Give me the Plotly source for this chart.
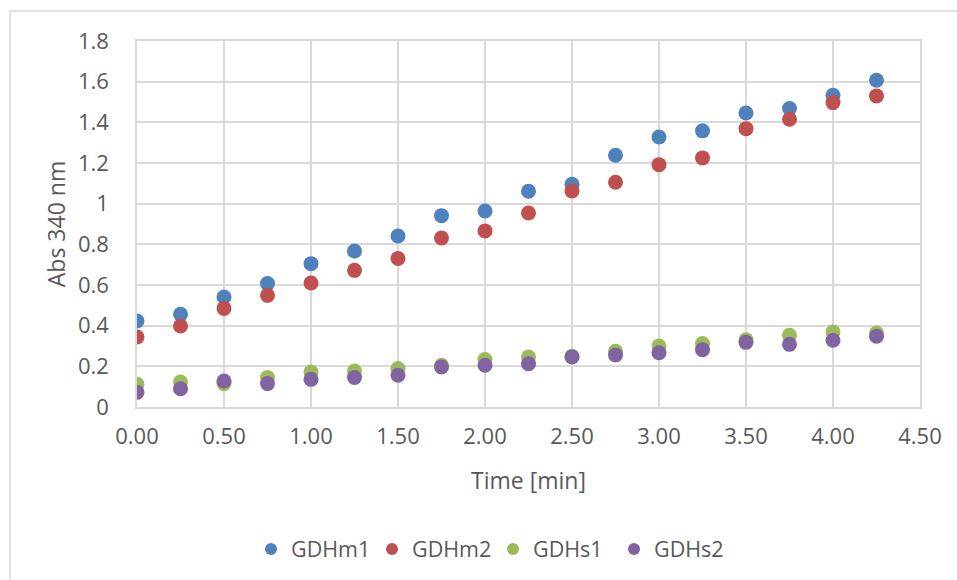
import plotly.graph_objects as go

time_min = [0.00, 0.25, 0.50, 0.75, 1.00, 1.25, 1.50, 1.75, 2.00, 2.25,
            2.50, 2.75, 3.00, 3.25, 3.50, 3.75, 4.00, 4.25]
gdhm1 = [0.423, 0.456, 0.541, 0.607, 0.705, 0.767, 0.841, 0.941, 0.964, 1.061,
         1.095, 1.238, 1.328, 1.358, 1.446, 1.468, 1.533, 1.607]
gdhm2 = [0.344, 0.398, 0.485, 0.549, 0.610, 0.672, 0.730, 0.831, 0.866, 0.954,
         1.062, 1.105, 1.192, 1.225, 1.369, 1.415, 1.497, 1.530]
gdhs1 = [0.112, 0.123, 0.115, 0.145, 0.172, 0.177, 0.189, 0.205, 0.233, 0.246,
         0.250, 0.274, 0.300, 0.312, 0.331, 0.353, 0.369, 0.364]
gdhs2 = [0.072, 0.090, 0.128, 0.115, 0.136, 0.145, 0.156, 0.197, 0.205, 0.213,
         0.246, 0.256, 0.267, 0.282, 0.318, 0.308, 0.328, 0.348]

series_names = ["GDHm1", "GDHm2", "GDHs1", "GDHs2"]
series_values = [gdhm1, gdhm2, gdhs1, gdhs2]
colors = ["#4F81BD", "#C0504D", "#9BBB59", "#8064A2"]

x_ticks = [0.0, 0.5, 1.0, 1.5, 2.0, 2.5, 3.0, 3.5, 4.0, 4.5]
x_tick_text = ["0.00", "0.50", "1.00", "1.50", "2.00", "2.50", "3.00", "3.50", "4.00", "4.50"]
y_ticks = [0, 0.2, 0.4, 0.6, 0.8, 1.0, 1.2, 1.4, 1.6, 1.8]
y_tick_text = ["0", "0.2", "0.4", "0.6", "0.8", "1", "1.2", "1.4", "1.6", "1.8"]

FONT = "Open Sans"
TXT = "#595959"
GRID = "#D9D9D9"

fig = go.Figure()
for name, vals, c in zip(series_names, series_values, colors):
    fig.add_trace(go.Scatter(
        x=time_min, y=vals, mode="markers", name=name,
        marker=dict(color=c, size=15, line=dict(width=0)),
    ))

W, H = 957, 580
L, R, T, B = 137, 37, 41, 173
pw, ph = W - L - R, H - T - B

fig.update_layout(
    width=W, height=H,
    margin=dict(l=L, r=R, t=T, b=B, pad=0),
    paper_bgcolor="white", plot_bgcolor="white",
    font=dict(family=FONT, color=TXT, size=21),
    showlegend=True,
    legend=dict(
        orientation="h", x=493 / W, xref="container", xanchor="center",
        y=1 - 549 / H, yref="container", yanchor="middle",
        font=dict(size=21.5, color=TXT, family=FONT),
        itemsizing="constant", entrywidth=76, entrywidthmode="pixels",
        bgcolor="rgba(0,0,0,0)",
    ),
    xaxis=dict(
        range=[0, 4.5], tickvals=x_ticks, ticktext=x_tick_text,
        showgrid=True, gridcolor=GRID, gridwidth=1.5,
        showline=True, linecolor=GRID, linewidth=1.5, mirror=True,
        zeroline=False, ticks="", ticklabelstandoff=9,
        tickfont=dict(size=22, color=TXT, family=FONT),
        title=dict(text="Time [min]", font=dict(size=23, color=TXT, family=FONT), standoff=24),
    ),
    yaxis=dict(
        range=[0, 1.8], tickvals=y_ticks, ticktext=y_tick_text,
        showgrid=True, gridcolor=GRID, gridwidth=1.5,
        showline=True, linecolor=GRID, linewidth=1.5, mirror=True,
        zeroline=False, ticks="", ticklabelstandoff=22,
        tickfont=dict(size=22, color=TXT, family=FONT),
        title=dict(text="Abs 340 nm", font=dict(size=23, color=TXT, family=FONT), standoff=6),
    ),
)

# outer chart-area border (extends beyond the visible window on right/bottom)
fig.add_shape(
    type="rect", xref="paper", yref="paper", layer="below",
    x0=(10 - L) / pw, x1=(W + 20 - L) / pw,
    y0=-(H + 20 - T - ph) / ph, y1=(T + ph - 11) / ph,
    line=dict(color=GRID, width=1.5), fillcolor="rgba(0,0,0,0)",
)

fig.write_html("out.html")
